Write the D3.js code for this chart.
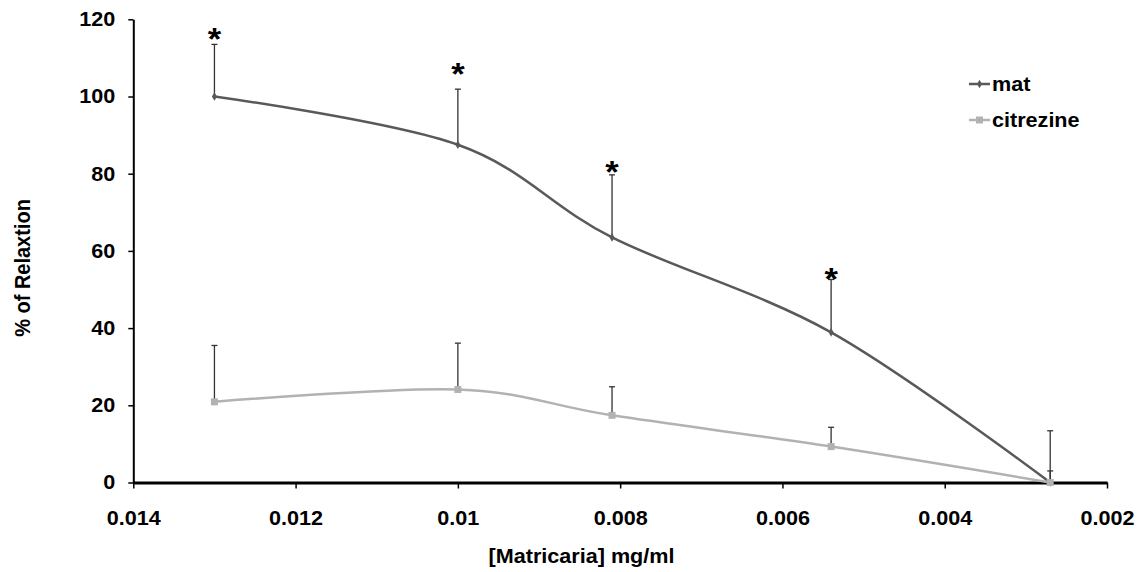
<!DOCTYPE html>
<html>
<head>
<meta charset="utf-8">
<script src="https://cdn.jsdelivr.net/npm/d3@7"></script>
<style>
  body { margin: 0; background: #fff; }
  text { font-family: "Liberation Sans", Arial, sans-serif; font-weight: bold; }
</style>
</head>
<body>
<svg id="chart"></svg>
<script>
// Data
const conc = [0.013, 0.01, 0.0081, 0.0054, 0.0027];
const matMean = [100, 87.5, 63.5, 38.9, 0];
const matErr = [13.5, 14.4, 16.2, 13.7, 13.4];
const citMean = [20.9, 24.1, 17.4, 9.3, 0];
const citErr = [14.6, 12.0, 7.4, 5.0, 3.0];
const starY = [116.6, 107.7, 82.3, 54.6];
const xTicks = [0.014, 0.012, 0.01, 0.008, 0.006, 0.004, 0.002];
const yTicks = [0, 20, 40, 60, 80, 100, 120];
const seriesNames = ["mat", "citrezine"];

const width = 1141, height = 572;
const sx = 1.08; // the reference is a little stretched sideways
const fs = "20px";

const svg = d3.select("#chart")
  .attr("width", width)
  .attr("height", height);

const x = d3.scaleLinear().domain([0.014, 0.002]).range([133.3, 1107]);
const y = d3.scaleLinear().domain([0, 120]).range([482.5, 19.3]);

const series = [
  { name: seriesNames[0], mean: matMean, err: matErr, color: "#595959", sym: d3.symbolDiamond, size: 22 },
  { name: seriesNames[1], mean: citMean, err: citErr, color: "#b2b2b2", sym: d3.symbolSquare, size: 49 }
];

// Y axis
const yAxis = svg.append("g")
  .attr("transform", `translate(${x(0.014)},0)`)
  .call(d3.axisLeft(y).tickValues(yTicks).tickSize(5).tickSizeOuter(0));
yAxis.select(".domain").attr("stroke", "#000").attr("stroke-width", 2);
yAxis.selectAll(".tick line").attr("stroke", "#000").attr("stroke-width", 1.5);
yAxis.selectAll("text")
  .attr("x", -18 / sx)
  .attr("fill", "#000")
  .style("font-size", fs)
  .attr("transform", `scale(${sx},1)`);

// X axis
const xAxis = svg.append("g")
  .attr("transform", `translate(0,${y(0)})`)
  .call(d3.axisBottom(x).tickValues(xTicks).tickFormat(d3.format("")).tickSize(6).tickSizeOuter(0));
xAxis.select(".domain").attr("stroke", "#000").attr("stroke-width", 3);
xAxis.selectAll(".tick line").attr("stroke", "#000").attr("stroke-width", 1.5);
xAxis.selectAll("text")
  .attr("y", 43)
  .attr("dy", 0)
  .attr("fill", "#000")
  .style("font-size", fs)
  .attr("transform", `scale(${sx},1)`);

// Axis titles
svg.append("text")
  .attr("transform", `translate(581.5,563) scale(${sx},1)`)
  .attr("text-anchor", "middle")
  .style("font-size", fs)
  .text("[Matricaria] mg/ml");

svg.append("text")
  .attr("transform", `translate(30,268) scale(${sx},1) rotate(-90)`)
  .attr("text-anchor", "middle")
  .style("font-size", fs)
  .text("% of Relaxtion");

// Error bars (upper only)
series.forEach(s => {
  const g = svg.append("g");
  conc.forEach((c, i) => {
    const px = x(c);
    g.append("line")
      .attr("x1", px).attr("x2", px)
      .attr("y1", y(s.mean[i])).attr("y2", y(s.mean[i] + s.err[i]))
      .attr("stroke", "#333").attr("stroke-width", 1.3);
    g.append("line")
      .attr("x1", px - 3).attr("x2", px + 3)
      .attr("y1", y(s.mean[i] + s.err[i])).attr("y2", y(s.mean[i] + s.err[i]))
      .attr("stroke", "#333").attr("stroke-width", 1.3);
  });
});

// Smoothed lines and markers
const line = d3.line()
  .x((d, i) => x(conc[i]))
  .y(d => y(d))
  .curve(d3.curveCardinal.tension(0));

series.forEach(s => {
  svg.append("path")
    .datum(s.mean)
    .attr("fill", "none")
    .attr("stroke", s.color)
    .attr("stroke-width", 2.5)
    .attr("d", line);
  svg.append("g")
    .selectAll("path")
    .data(s.mean)
    .enter()
    .append("path")
    .attr("transform", (d, i) => `translate(${x(conc[i])},${y(d)})`)
    .attr("d", d3.symbol().type(s.sym).size(s.size))
    .attr("fill", s.color);
});

// Significance stars
svg.append("g")
  .selectAll("text")
  .data(starY)
  .enter()
  .append("text")
  .attr("transform", (d, i) => `translate(${x(conc[i])},${y(d) + 18}) scale(${sx},1)`)
  .attr("text-anchor", "middle")
  .style("font-size", "32px")
  .text("*");

// Legend
const legend = svg.append("g")
  .selectAll("g")
  .data(series)
  .enter()
  .append("g")
  .attr("transform", (d, i) => `translate(969,${84 + i * 36})`);
legend.append("line")
  .attr("x1", 0).attr("x2", 21)
  .attr("stroke", d => d.color)
  .attr("stroke-width", 2.5);
legend.append("path")
  .attr("transform", "translate(10.5,0)")
  .attr("d", d => d3.symbol().type(d.sym).size(d.size)())
  .attr("fill", d => d.color);
legend.append("text")
  .attr("transform", `translate(23,7) scale(${sx},1)`)
  .style("font-size", fs)
  .text(d => d.name);
</script>
</body>
</html>
